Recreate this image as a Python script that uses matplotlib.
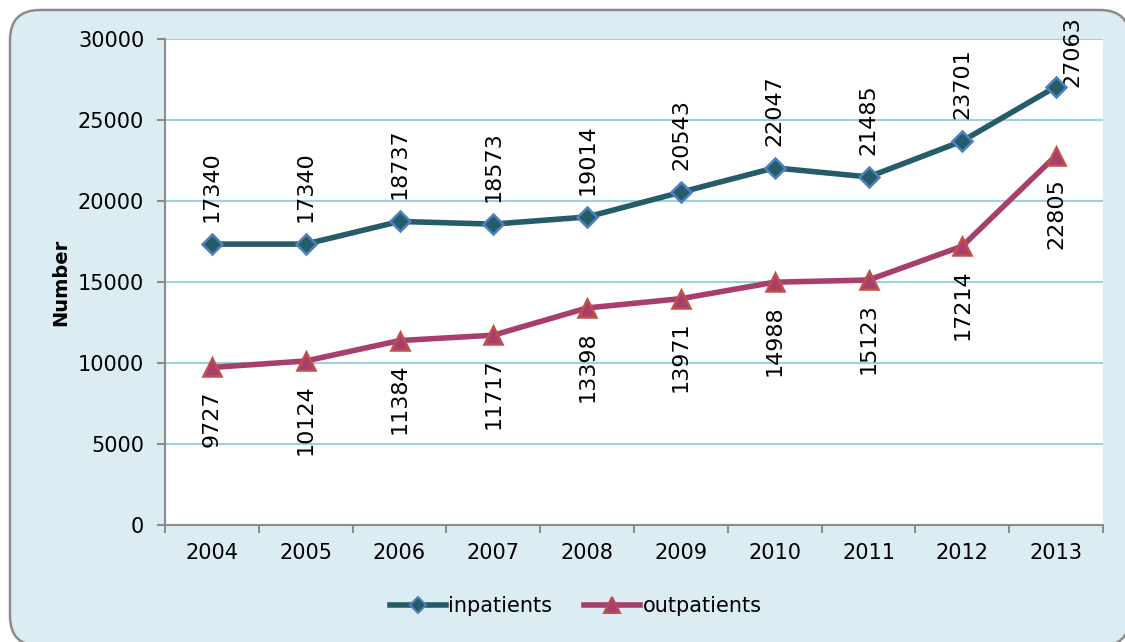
import matplotlib
matplotlib.use("Agg")
import matplotlib.pyplot as plt
from matplotlib.patches import FancyBboxPatch
from matplotlib.lines import Line2D

years = ["2004", "2005", "2006", "2007", "2008", "2009", "2010", "2011", "2012", "2013"]
inpatients = [17340, 17340, 18737, 18573, 19014, 20543, 22047, 21485, 23701, 27063]
outpatients = [9727, 10124, 11384, 11717, 13398, 13971, 14988, 15123, 17214, 22805]
yticks = [0, 5000, 10000, 15000, 20000, 25000, 30000]

plt.rcParams['font.family'] = ['DejaVu Sans']

W, H = 1125, 642
fig = plt.figure(figsize=(W / 100, H / 100), dpi=100)
fig.patch.set_facecolor('white')

bg = '#DBEDF3'
box = FancyBboxPatch((10 / W, -4 / H), (1130 - 10) / W, (642 + 4 - 10) / H,
                     boxstyle="round,pad=0,rounding_size=%f" % (30 / W),
                     transform=fig.transFigure, facecolor=bg, edgecolor='#8C8C8C',
                     linewidth=1.8, mutation_aspect=W / H, zorder=-10)
box.set_clip_on(False)
fig.patches.append(box)

ax = fig.add_axes([165 / W, 1 - 525 / H, (1103 - 165) / W, (525 - 39) / H])
ax.set_facecolor('white')

x = list(range(len(years)))
c_in, c_in_edge = '#245C69', '#4F81BD'
c_out, c_out_edge = '#A83E6C', '#C0504D'

ax.plot(x, inpatients, color=c_in, lw=4, marker='D', ms=10, mfc=c_in, mec=c_in_edge,
        mew=1.8, zorder=4, label='inpatients', solid_capstyle='round')
ax.plot(x, outpatients, color=c_out, lw=4, marker='^', ms=13, mfc=c_out, mec=c_out_edge,
        mew=1.8, zorder=4, label='outpatients', solid_capstyle='round')

fs = 15
fl = 16
for i, v in enumerate(inpatients):
    if i == len(inpatients) - 1:
        ax.annotate(str(v), (i, v), xytext=(16, 0), textcoords='offset pixels',
                    rotation=90, ha='center', va='bottom', fontsize=fl, annotation_clip=False)
    else:
        ax.annotate(str(v), (i, v), xytext=(0, 22), textcoords='offset pixels',
                    rotation=90, ha='center', va='bottom', fontsize=fl)
for i, v in enumerate(outpatients):
    ax.annotate(str(v), (i, v), xytext=(0, -23), textcoords='offset pixels',
                rotation=90, ha='center', va='top', fontsize=fl)

ax.set_xlim(-0.5, len(years) - 0.5)
ax.set_ylim(0, 30000)
ax.set_yticks(yticks)
ax.set_yticklabels([str(t) for t in yticks], fontsize=fs)
ax.set_xticks(x)
ax.set_xticklabels(years, fontsize=fs)
ax.set_xticks([i - 0.5 for i in range(len(years) + 1)], minor=True)
ax.tick_params(axis='x', which='major', length=0, pad=13)
ax.tick_params(axis='x', which='minor', length=6, color='#8C8C8C', width=1.5)
ax.tick_params(axis='y', length=6, color='#8C8C8C', width=1.5, pad=9)

ax.grid(axis='y', color='#9AD2E2', lw=1.5)
ax.set_axisbelow(True)
for s in ['top', 'right']:
    ax.spines[s].set_visible(False)
for s in ['left', 'bottom']:
    ax.spines[s].set_color('#8C8C8C')
    ax.spines[s].set_linewidth(1.5)

fig.text(61 / W, 1 - 282 / H, 'Number', rotation=90, ha='center', va='center',
         fontsize=14, fontweight='bold')

handles = [Line2D([], [], color=c_in, lw=4, marker='D', ms=8, mfc=c_in, mec=c_in_edge, mew=1.5),
           Line2D([], [], color=c_out, lw=4, marker='^', ms=11, mfc=c_out, mec=c_out_edge, mew=1.5)]
fig.legend(handles, ['inpatients', 'outpatients'], loc='center',
           bbox_to_anchor=(0.5 + 13 / W, 1 - 606 / H),
           ncol=2, frameon=False, fontsize=fs, handlelength=2.7, handletextpad=0.12,
           columnspacing=1.5)

fig.savefig('out.png', dpi=100, facecolor='white')
